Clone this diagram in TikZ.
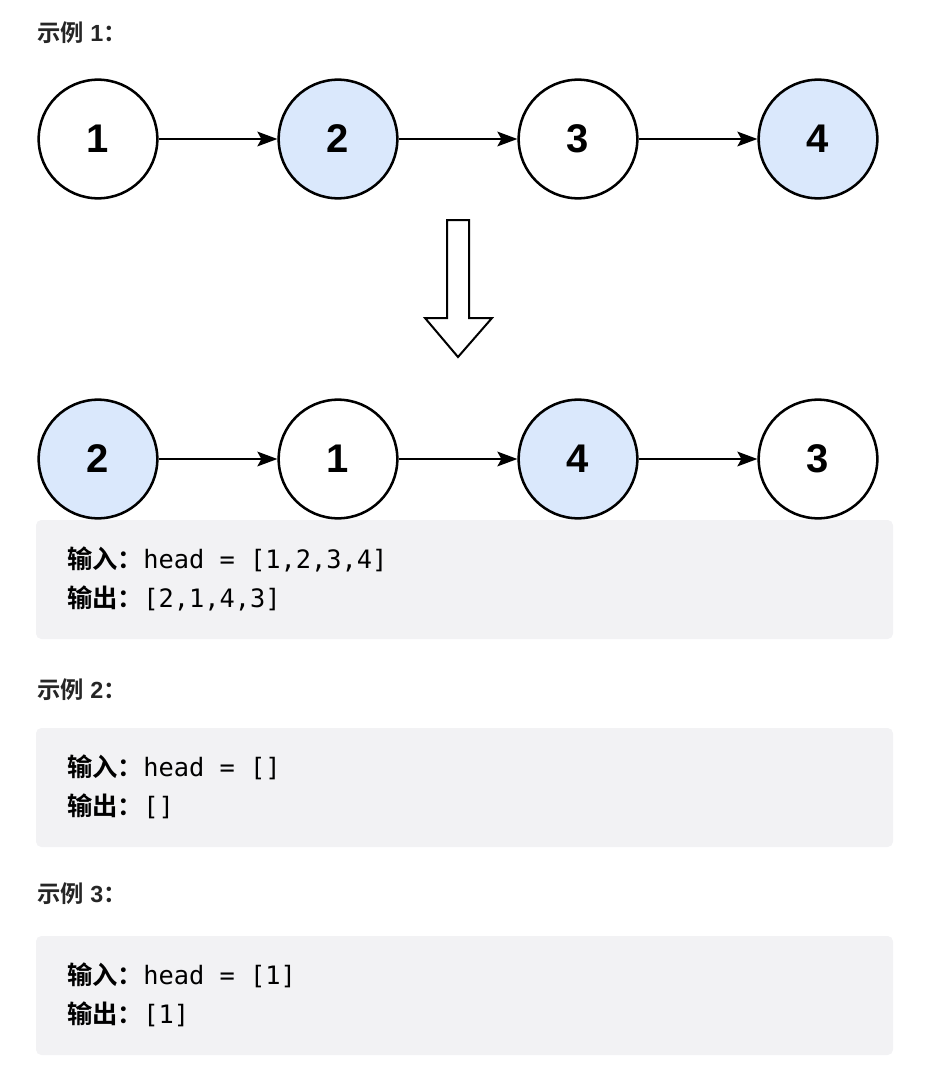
\documentclass[tikz,border=0pt]{standalone}
\usepackage{fontspec}
\setmainfont{Liberation Sans}
\newfontfamily\cjk{Noto Sans CJK SC}
\newfontfamily\cjkb{Noto Sans CJK SC Bold}
\newfontfamily\mono{DejaVu Sans Mono}
\usetikzlibrary{arrows.meta}
\definecolor{nblue}{HTML}{DAE8FC}
\definecolor{boxg}{HTML}{F2F2F4}
\definecolor{txt}{HTML}{262626}
\begin{document}
\begin{tikzpicture}[x=0.75pt,y=-0.75pt,
  nd/.style={circle,draw=black,line width=1.9pt,minimum size=89pt,inner sep=0pt,font=\fontsize{30}{30}\selectfont\bfseries},
  bl/.style={nd,fill=nblue},
  wh/.style={nd,fill=white},
  ar/.style={line width=1.5pt,-{Stealth[length=15pt,width=11pt,inset=3pt]}},
  hd/.style={anchor=west,inner sep=0pt,text=txt,font=\fontsize{17.5}{17.5}\selectfont},
  cd/.style={anchor=west,inner sep=0pt,text=black,font=\fontsize{19}{19}\selectfont},
  gb/.style={fill=boxg,rounded corners=4pt}]
\useasboundingbox (0,0) rectangle (936,1092);
\node[hd] (h1) at (37,33) {{\cjkb 示例} \textbf{1}{\cjkb ：}};
\node[wh] (a1) at (98,139) {1};
\node[bl] (a2) at (338,139) {2};
\node[wh] (a3) at (578,139) {3};
\node[bl] (a4) at (818,139) {4};
\draw[ar] (a1) -- (a2); \draw[ar] (a2) -- (a3); \draw[ar] (a3) -- (a4);
\draw[line width=1.5pt,fill=white] (447,220) -- (469,220) -- (469,318) -- (492,318) -- (458,357) -- (425,318) -- (447,318) -- cycle;
\node[bl] (b1) at (98,459) {2};
\node[wh] (b2) at (338,459) {1};
\node[bl] (b3) at (578,459) {4};
\node[wh] (b4) at (818,459) {3};
\draw[ar] (b1) -- (b2); \draw[ar] (b2) -- (b3); \draw[ar] (b3) -- (b4);
\fill[gb] (36,520) rectangle (893,639);
\node[cd] (i1) at (67,559) {{\cjkb 输入：}{\mono head = [1,2,3,4]}};
\node[cd] (o1) at (67,598) {{\cjkb 输出：}{\mono [2,1,4,3]}};
\node[hd] (h2) at (37,690) {{\cjkb 示例} \textbf{2}{\cjkb ：}};
\fill[gb] (36,728) rectangle (893,847);
\node[cd] (i2) at (67,767) {{\cjkb 输入：}{\mono head = []}};
\node[cd] (o2) at (67,806) {{\cjkb 输出：}{\mono []}};
\node[hd] (h3) at (37,894) {{\cjkb 示例} \textbf{3}{\cjkb ：}};
\fill[gb] (36,936) rectangle (893,1055);
\node[cd] (i3) at (67,975) {{\cjkb 输入：}{\mono head = [1]}};
\node[cd] (o3) at (67,1014) {{\cjkb 输出：}{\mono [1]}};
\end{tikzpicture}
\end{document}
